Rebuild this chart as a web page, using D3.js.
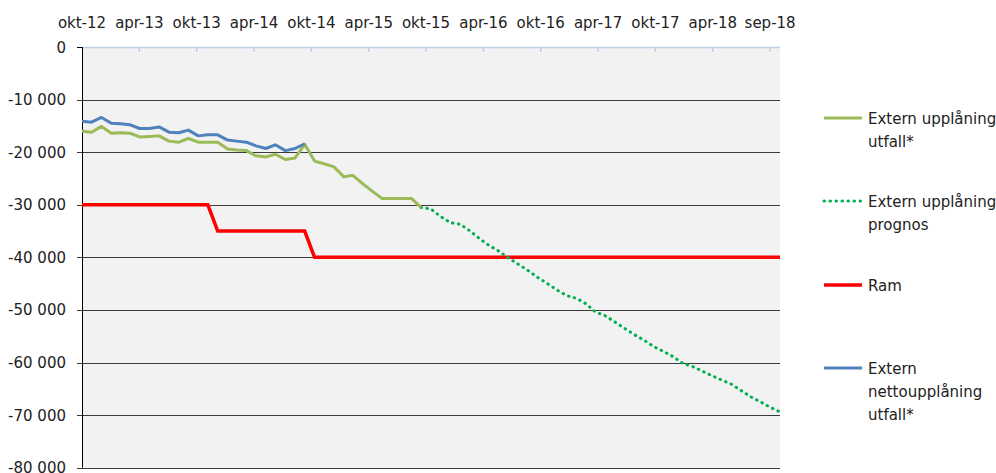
<!DOCTYPE html>
<html>
<head>
<meta charset="utf-8">
<script src="https://cdn.jsdelivr.net/npm/d3@7"></script>
<style>
  body { margin: 0; background: #fff; }
  text { font-family: "DejaVu Sans", sans-serif; fill: #222; }
</style>
</head>
<body>
<script>
// months from okt-12 to okt-18, one value per month end
var monthNames = ["jan", "feb", "mar", "apr", "maj", "jun", "jul", "aug", "sep", "okt", "nov", "dec"];
var months = d3.range(73).map(function (i) { return d3.timeDay.offset(new Date(2012, 10 + i, 1), -1); });

// Extern nettoupplåning utfall* (okt-12 .. sep-14)
var netto = [-14100, -14300, -13400, -14500, -14600, -14800, -15500, -15500, -15200, -16200, -16300, -15800,
  -16900, -16700, -16700, -17700, -17900, -18100, -18800, -19300, -18600, -19700, -19300, -18400];

// Extern upplåning utfall* (okt-12 .. sep-15)
var utfall = [-16000, -16200, -15100, -16400, -16300, -16400, -17100, -17000, -16900, -17900, -18100, -17400,
  -18100, -18100, -18100, -19400, -19600, -19700, -20700, -20900, -20400, -21400, -21100, -18500,
  -21700, -22200, -22800, -24700, -24400, -26000, -27400, -28800, -28800, -28800, -28800, -30500];

// Extern upplåning prognos (sep-15 .. okt-18)
var prognos = [-30500, -30800, -32200, -33400, -33700, -34900, -36400, -37700, -38800, -40100, -41300, -42500,
  -43800, -45000, -46200, -47300, -47800, -48800, -50400, -51100, -52300, -53500, -54700, -55800,
  -57000, -57900, -58900, -60200, -60800, -61600, -62500, -63300, -64100, -65300, -66500, -67500,
  -68500, -69400];

// Ram
var ram = [-30000, -30000, -30000, -30000, -30000, -30000, -30000, -30000, -30000, -30000, -30000, -30000, -30000, -30000,
  -35000, -35000, -35000, -35000, -35000, -35000, -35000, -35000, -35000, -35000,
  -40000, -40000, -40000, -40000, -40000, -40000, -40000, -40000, -40000, -40000, -40000, -40000, -40000, -40000,
  -40000, -40000, -40000, -40000, -40000, -40000, -40000, -40000, -40000, -40000, -40000, -40000, -40000, -40000,
  -40000, -40000, -40000, -40000, -40000, -40000, -40000, -40000, -40000, -40000, -40000, -40000, -40000, -40000,
  -40000, -40000, -40000, -40000, -40000, -40000, -40000];

var yTicks = [0, -10000, -20000, -30000, -40000, -50000, -60000, -70000, -80000];

var W = 996, H = 473;
var plot = { x0: 82, x1: 780, y0: 47, y1: 467.7 };

var svg = d3.select("body").append("svg")
  .attr("width", W)
  .attr("height", H);

var x = d3.scaleTime().domain([months[0], months[72]]).range([plot.x0, plot.x1]);
var y = d3.scaleLinear().domain([-80000, 0]).range([plot.y1, plot.y0]);

var loc = d3.formatLocale({ decimal: ",", thousands: " ", grouping: [3], currency: ["", ""], minus: "-" });
var fmt = loc.format(",");

// plot background
svg.append("rect")
  .attr("x", plot.x0).attr("y", plot.y0)
  .attr("width", plot.x1 - plot.x0).attr("height", plot.y1 - plot.y0)
  .attr("fill", "#f2f2f2");

// gridlines
svg.append("g").selectAll("line")
  .data(yTicks.filter(function (d) { return d < 0; }))
  .enter().append("line")
  .attr("x1", plot.x0 - 5).attr("x2", plot.x1)
  .attr("y1", function (d) { return Math.round(y(d)) + 0.5; })
  .attr("y2", function (d) { return Math.round(y(d)) + 0.5; })
  .attr("stroke", "#3a3a3a")
  .attr("stroke-width", 1);

// y labels
svg.append("g").selectAll("text")
  .data(yTicks)
  .enter().append("text")
  .attr("x", 66)
  .attr("y", function (d) { return y(d) + 5.5; })
  .attr("text-anchor", "end")
  .style("font-size", "15px")
  .text(function (d) { return fmt(d); });

// left axis
svg.append("line")
  .attr("x1", plot.x0 + 0.5).attr("x2", plot.x0 + 0.5)
  .attr("y1", plot.y0).attr("y2", plot.y1)
  .attr("stroke", "#000").attr("stroke-width", 1);
svg.append("line")
  .attr("x1", plot.x0 - 5).attr("x2", plot.x0)
  .attr("y1", y(0) + 0.5).attr("y2", y(0) + 0.5)
  .attr("stroke", "#000").attr("stroke-width", 1);

// top (category) axis, ticks every 180 days
var xTicks = d3.range(13).map(function (k) { return d3.timeDay.offset(months[0], 180 * k); });
var xFmt = function (d) { return monthNames[d.getMonth()] + "-" + String(d.getFullYear()).slice(2); };

svg.append("line")
  .attr("x1", plot.x0 + 1).attr("x2", plot.x1)
  .attr("y1", y(0) + 0.5).attr("y2", y(0) + 0.5)
  .attr("stroke", "#bfcfe6").attr("stroke-width", 1.5);
svg.append("g").selectAll("line")
  .data(xTicks.slice(1))
  .enter().append("line")
  .attr("x1", function (d) { return x(d); })
  .attr("x2", function (d) { return x(d); })
  .attr("y1", y(0)).attr("y2", y(0) + 5)
  .attr("stroke", "#bfcfe6").attr("stroke-width", 1.5);
svg.append("g").selectAll("text")
  .data(xTicks)
  .enter().append("text")
  .attr("x", function (d) { return x(d); })
  .attr("y", 28)
  .attr("text-anchor", "middle")
  .style("font-size", "15px")
  .text(xFmt);

// series
function series(values, start) {
  return values.map(function (v, i) { return { date: months[start + i], value: v }; });
}
var line = d3.line()
  .x(function (d) { return x(d.date); })
  .y(function (d) { return y(d.value); });

svg.append("path")
  .datum(series(ram, 0))
  .attr("d", line)
  .attr("fill", "none")
  .attr("stroke", "#ff0000")
  .attr("stroke-width", 3.5);

svg.append("path")
  .datum(series(prognos, 35))
  .attr("d", line)
  .attr("fill", "none")
  .attr("stroke", "#00b050")
  .attr("stroke-width", 3)
  .attr("stroke-linecap", "round")
  .attr("stroke-dasharray", "0.5 5.5");

svg.append("path")
  .datum(series(utfall, 0))
  .attr("d", line)
  .attr("fill", "none")
  .attr("stroke", "#9bbb59")
  .attr("stroke-width", 3)
  .attr("stroke-linejoin", "round");

svg.append("path")
  .datum(series(netto, 0))
  .attr("d", line)
  .attr("fill", "none")
  .attr("stroke", "#4f81bd")
  .attr("stroke-width", 3)
  .attr("stroke-linejoin", "round");

// legend
var legend = [
  { lines: ["Extern upplåning", "utfall*"], color: "#9bbb59", dash: null, y: 118 },
  { lines: ["Extern upplåning", "prognos"], color: "#00b050", dash: "0.5 5.5", y: 201 },
  { lines: ["Ram"], color: "#ff0000", dash: null, y: 285 },
  { lines: ["Extern", "nettoupplåning", "utfall*"], color: "#4f81bd", dash: null, y: 368 }
];

var items = svg.append("g").selectAll("g")
  .data(legend)
  .enter().append("g")
  .attr("transform", function (d) { return "translate(0," + d.y + ")"; });

items.append("line")
  .attr("x1", 824).attr("x2", 862)
  .attr("y1", 0).attr("y2", 0)
  .attr("stroke", function (d) { return d.color; })
  .attr("stroke-width", function (d) { return d.color === "#ff0000" ? 3.5 : 3; })
  .attr("stroke-linecap", function (d) { return d.dash ? "round" : "butt"; })
  .attr("stroke-dasharray", function (d) { return d.dash; });

items.each(function (d) {
  var t = d3.select(this).append("text")
    .attr("x", 868)
    .attr("y", 6)
    .style("font-size", "15px");
  d.lines.forEach(function (s, i) {
    t.append("tspan").attr("x", 868).attr("dy", i === 0 ? 0 : 23).text(s);
  });
});
</script>
</body>
</html>
